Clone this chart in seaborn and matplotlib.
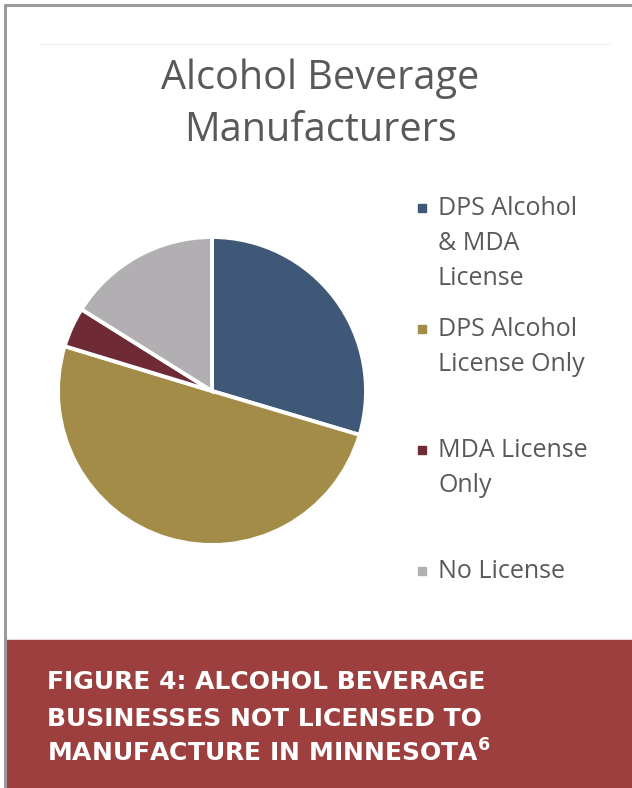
import matplotlib
matplotlib.use("Agg")
import matplotlib.pyplot as plt
import seaborn as sns
from matplotlib.patches import Rectangle
from matplotlib.lines import Line2D

# Data
categories = ["DPS Alcohol\n& MDA\nLicense", "DPS Alcohol\nLicense Only",
              "MDA License\nOnly", "No License"]
shares = [29.6, 50.1, 4.2, 16.1]
slice_colors = ["#3f5877", "#a38b48", "#6e2a35", "#b1afb1"]
chart_title = "Alcohol Beverage\nManufacturers"
caption_lines = ["FIGURE 4: ALCOHOL BEVERAGE",
                 "BUSINESSES NOT LICENSED TO",
                 r"MANUFACTURE IN MINNESOTA$^{\mathbf{6}}$"]

sns.set_theme(style="white")
plt.rcParams["font.family"] = ["Open Sans", "DejaVu Sans"]
plt.rcParams["mathtext.fontset"] = "dejavusans"

W, H = 632, 788
fig = plt.figure(figsize=(W / 100, H / 100), dpi=100)
fig.patch.set_facecolor("white")

def fx(px):
    return px / W

def fy(py):
    return 1 - py / H

# Outer frame (top and left edges)
fig.add_artist(Line2D([fx(5), fx(632)], [fy(5), fy(5)], color="#9a9a9a", lw=2.2,
                      transform=fig.transFigure))
fig.add_artist(Line2D([fx(5), fx(5)], [fy(5), fy(788)], color="#9a9a9a", lw=2.2,
                      transform=fig.transFigure))
# faint chart-area line
fig.add_artist(Line2D([fx(40), fx(610)], [fy(44), fy(44)], color="#f1f1f1", lw=1,
                      transform=fig.transFigure))

# Title
fig.text(fx(320), fy(141), chart_title, ha="center", va="baseline",
         fontsize=28.5, color="#595959", linespacing=1.38, multialignment="center")

# Pie
cx, cy, r = 212, 391, 154
ax = fig.add_axes([fx(cx - r), fy(cy + r), 2 * r / W, 2 * r / H])
ax.pie(shares, colors=slice_colors, startangle=90, counterclock=False,
       radius=1, wedgeprops=dict(edgecolor="white", linewidth=2.8))
ax.set_xlim(-1.0, 1.0)
ax.set_ylim(-1.0, 1.0)
ax.set_aspect("equal")
ax.axis("off")

# Legend
leg_x, leg_y0, slot = 438, 208, 121
for i, (lab, col) in enumerate(zip(categories, slice_colors)):
    yc = leg_y0 + i * slot
    fig.add_artist(Rectangle((fx(418), fy(yc + 4)), 8 / W, 8 / H, color=col,
                             transform=fig.transFigure))
    fig.text(fx(leg_x), fy(yc - 12), lab, ha="left", va="top",
             fontsize=18, color="#595959", linespacing=1.52)

# Caption banner
fig.add_artist(Rectangle((fx(6), 0), 1, fy(640), color="#9e3f3f",
                         transform=fig.transFigure))
for j, line in enumerate(caption_lines):
    fig.text(fx(47), fy(689 + j * 36.5), line, ha="left", va="baseline",
             fontsize=18, fontweight="bold", color="white",
             family=["DejaVu Sans"])

fig.savefig("out.png", dpi=100)
